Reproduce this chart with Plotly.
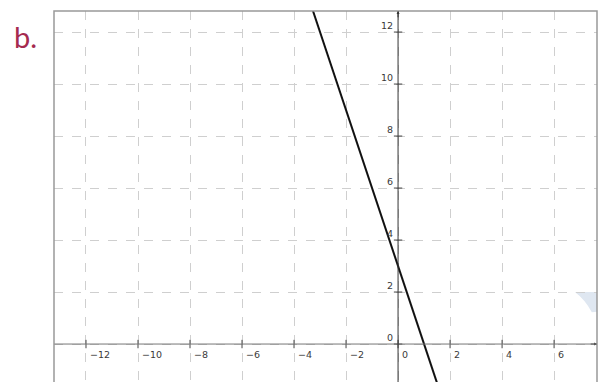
import plotly.graph_objects as go

# data
line_x = [-4, 2]
line_y = [15, -3]
x_ticks = [-12, -10, -8, -6, -4, -2, 0, 2, 4, 6]
x_tick_labels = ["\u221212", "\u221210", "\u22128", "\u22126", "\u22124", "\u22122", "0", "2", "4", "6"]
y_ticks = [0, 2, 4, 6, 8, 10, 12]
y_tick_labels = ["0", "2", "4", "6", "8", "10", "12"]
panel_label = "b."

X_RANGE = [-13.23, 7.65]
Y_RANGE = [-1.46, 12.81]

fig = go.Figure()

# the line
fig.add_trace(go.Scatter(x=line_x, y=line_y, mode="lines",
                         line=dict(color="#111111", width=2), hoverinfo="skip"))

# tick marks on axes
fig.add_trace(go.Scatter(x=x_ticks, y=[0] * len(x_ticks), mode="markers",
                         marker=dict(symbol="line-ns", size=6, line=dict(color="#444", width=1)),
                         hoverinfo="skip"))
fig.add_trace(go.Scatter(x=[0] * len(y_ticks), y=y_ticks, mode="markers",
                         marker=dict(symbol="line-ew", size=6, line=dict(color="#444", width=1)),
                         hoverinfo="skip"))

ann = []
lab_font = dict(family="DejaVu Sans", size=9.5, color="#3a3a3a")
for v, t in zip(x_ticks, x_tick_labels):
    ann.append(dict(x=v, y=0, xref="x", yref="y", text=t, showarrow=False,
                    xanchor="left", yanchor="top", xshift=2, yshift=-3, font=lab_font))
for v, t in zip(y_ticks, y_tick_labels):
    ann.append(dict(x=0, y=v, xref="x", yref="y", text=t, showarrow=False,
                    xanchor="right", yanchor="bottom", xshift=-3, yshift=-1, font=lab_font))

# axis arrows
ann.append(dict(x=X_RANGE[1], y=0, ax=X_RANGE[1] - 0.3, ay=0, xref="x", yref="y",
                axref="x", ayref="y", showarrow=True, arrowhead=2, arrowsize=0.6,
                arrowwidth=1, arrowcolor="#555", text=""))
ann.append(dict(x=0, y=Y_RANGE[1], ax=0, ay=Y_RANGE[1] - 0.3, xref="x", yref="y",
                axref="x", ayref="y", showarrow=True, arrowhead=2, arrowsize=0.6,
                arrowwidth=1, arrowcolor="#333", text=""))

# panel label
ann.append(dict(x=-42 / 543, y=1 - 6 / 371, xref="paper", yref="paper", text=panel_label,
                showarrow=False, xanchor="left", yanchor="top",
                font=dict(family="Lato", size=29, color="#a52a4f")))

shapes = [
    # axes
    dict(type="line", xref="x", yref="y", x0=X_RANGE[0], x1=X_RANGE[1], y0=0, y1=0,
         line=dict(color="#777777", width=1), layer="above"),
    dict(type="line", xref="x", yref="y", x0=0, x1=0, y0=Y_RANGE[0], y1=Y_RANGE[1],
         line=dict(color="#333333", width=1), layer="above"),
    # frame (left, top, right)
    dict(type="path", xref="paper", yref="paper", path="M 0 0 L 0 1 L 1 1 L 1 0",
         line=dict(color="#999999", width=1.5), layer="above"),
    # faint blue artifact
    dict(type="path", xref="x", yref="y",
         path="M 6.8 2.0 L 7.7 2.0 L 7.7 1.25 L 7.45 1.22 Q 7.2 1.7 6.8 2.0 Z",
         fillcolor="#dfe7f1", line=dict(width=0), layer="below"),
]

fig.update_layout(
    width=598, height=382,
    margin=dict(l=54, r=1, t=11, b=0),
    paper_bgcolor="white", plot_bgcolor="white",
    showlegend=False,
    xaxis=dict(range=X_RANGE, tickvals=x_ticks, showticklabels=False, ticks="",
               showgrid=True, gridcolor="#cfcfcf", griddash="dash", gridwidth=1,
               zeroline=False, showline=False, fixedrange=True),
    yaxis=dict(range=Y_RANGE, tickvals=y_ticks, showticklabels=False, ticks="",
               showgrid=True, gridcolor="#cfcfcf", griddash="dash", gridwidth=1,
               zeroline=False, showline=False, fixedrange=True),
    annotations=ann, shapes=shapes,
)

fig.write_html("out.html", config={"displayModeBar": False},
               post_script="document.body.style.margin='0';document.body.style.overflow='hidden';")
